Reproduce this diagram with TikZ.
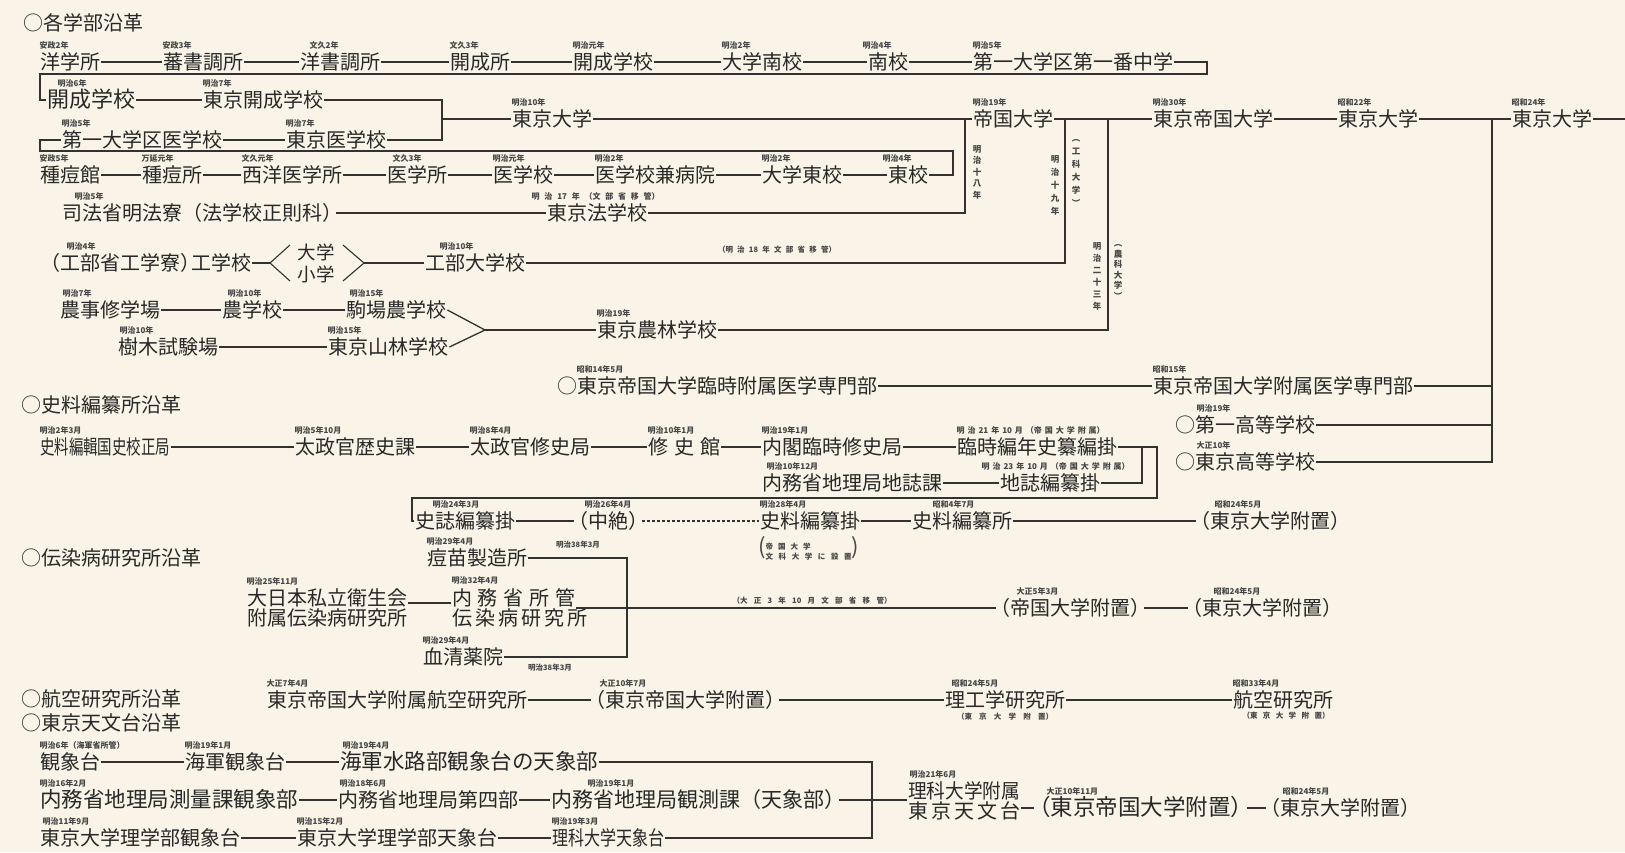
\documentclass[tikz,border=0pt]{standalone}
\usepackage{fontspec}
\setmainfont{Noto Sans CJK JP}
\usepackage{graphicx}
\definecolor{bg}{RGB}{249,244,231}
\definecolor{ink}{RGB}{40,40,40}
\definecolor{lnc}{RGB}{50,50,50}
\definecolor{dtc}{RGB}{70,70,70}
\newcommand{\lp}{\hspace*{-7pt}（}
\newcommand{\rp}{）\hspace*{-7pt}}
\newcommand{\jbig}[1]{{\fontsize{21.5}{24}\selectfont #1}}
\newcommand{\jent}[5][0]{\node[ent] (#2) at (#3) {#4};\node[dat] (#2d) at ([xshift=#1pt,yshift=2pt]#2.north west) {#5};}
\tikzset{
  ent/.style={anchor=west, inner sep=1pt, text=ink, font=\fontsize{20}{24}\selectfont, text height=16.5pt, text depth=1.5pt},
  two/.style={anchor=west, inner sep=1pt, text=ink, font=\fontsize{20}{20}\selectfont, align=left},
  dat/.style={anchor=south west, inner sep=0.5pt, text=dtc, font=\fontsize{8}{8}\selectfont\bfseries},
  sml/.style={inner sep=0.5pt, text=dtc, font=\fontsize{7.5}{8}\selectfont\bfseries},
  vt/.style={inner sep=0pt, text=dtc, font=\fontsize{8.5}{12}\selectfont\bfseries, align=center},
  ln/.style={draw=lnc, line width=1.3pt},
  dln/.style={draw=lnc, line width=1.1pt, dash pattern=on 2.5pt off 2.5pt},
}
\begin{document}
\begin{tikzpicture}[x=1pt,y=-1pt]
\fill[bg] (0,0) rectangle (1625,852);
\useasboundingbox (0,0) rectangle (1625,852);

% headers
\node[ent] (h1) at (22,23) {○各学部沿革};
\node[ent] (h2) at (20,405) {○史料編纂所沿革};
\node[ent] (h3) at (20,558) {○伝染病研究所沿革};
\node[ent] (h4) at (20,699) {○航空研究所沿革};
\node[ent] (h5) at (20,723) {○東京天文台沿革};

% ---------- section 1 ----------
\jent{yogaku}{39,62}{洋学所}{安政2年}
\jent{bansho}{162,62}{蕃書調所}{安政3年}
\jent[10]{yosho}{299,62}{洋書調所}{文久2年}
\jent{kaiseijo}{449,62}{開成所}{文久3年}
\jent{kaiseiA}{572,62}{開成学校}{明治元年}
\jent{minami}{721,62}{大学南校}{明治2年}
\jent[-5]{nanko}{867,62}{南校}{明治4年}
\jent{daiichi}{972,62}{第一大学区第一番中学}{明治5年}

\jent[11]{kaiseiB}{46,100}{{\fontsize{22}{24}\selectfont 開成学校}}{明治6年}
\jent{tkaisei}{202,100}{東京開成学校}{明治7年}
\jent{todaiA}{511,119}{東京大学}{明治10年}
\jent{teikoku}{972,119}{帝国大学}{明治19年}
\jent{tteikoku}{1152,119}{東京帝国大学}{明治30年}
\jent{todaiB}{1337,119}{東京大学}{昭和22年}
\jent{todaiC}{1511,119}{東京大学}{昭和24年}

\jent{igakuA}{61,140}{第一大学区医学校}{明治5年}
\jent{tigaku}{285,140}{東京医学校}{明治7年}

\jent{shutokan}{39,175}{種痘館}{安政5年}
\jent{shutosho}{141,175}{種痘所}{万延元年}
\jent{seiyo}{241,175}{西洋医学所}{文久元年}
\jent[6]{igakusho}{386,175}{医学所}{文久3年}
\jent{igakko}{492,175}{医学校}{明治元年}
\jent{kenbyo}{594,175}{医学校兼病院}{明治2年}
\jent{daigakuto}{761,175}{大学東校}{明治2年}
\jent[-5]{toko}{887,175}{東校}{明治4年}

\jent[13]{shiho}{61,213}{司法省明法寮（法学校正則科\rp}{明治5年}
\jent[-15]{hogakko}{546,213}{東京法学校}{\makebox[128pt][s]{明 治 17 年 （文 部 省 移 管）}}

\jent[20]{kogakko}{46,263}{\lp 工部省工学寮）\hspace*{-9pt}工学校}{明治4年}
\jent[15]{kobudai}{424,263}{工部大学校}{明治10年}
\node[sml] (kobunote) at (777,250) {\makebox[118pt][s]{（明 治 18 年 文 部 省 移 管）}};
\node[inner sep=0pt, text=ink, font=\fontsize{18.5}{18}\selectfont] (daigakuK) at (316,252) {大学};
\node[inner sep=0pt, text=ink, font=\fontsize{18.5}{18}\selectfont] (shogakuK) at (316,274) {小学};
\coordinate (k1) at (270,263);
\coordinate (k2) at (290,245);
\coordinate (k3) at (290,281);
\coordinate (k4) at (343,245);
\coordinate (k5) at (364,263);
\coordinate (k6) at (343,281);

\jent[3]{nojishu}{59,310}{農事修学場}{明治7年}
\jent[6]{nogakko}{221,310}{農学校}{明治10年}
\jent[4]{komaba}{345,310}{駒場農学校}{明治15年}
\jent[2]{jumoku}{117,347}{樹木試験場}{明治10年}
\jent{sanrin}{327,347}{東京山林学校}{明治15年}
\jent{norin}{596,330}{東京農林学校}{明治19年}
\coordinate (m1) at (485,330);

\jent[20]{rinji}{556,386}{○東京帝国大学臨時附属医学専門部}{昭和14年5月}
\jent{fuzoku}{1152,386}{東京帝国大学附属医学専門部}{昭和15年}
\jent[22]{ichiko}{1174,425}{○第一高等学校}{明治19年}
\jent[22]{tokyoko}{1174,462}{○東京高等学校}{大正10年}

% vertical notes
\node[vt, font=\fontsize{8.5}{11.5}\selectfont\bfseries] (v18) at (977,172) {明\\治\\十\\八\\年};
\node[vt, font=\fontsize{8.5}{13}\selectfont\bfseries] (v19) at (1055,185) {明\\治\\十\\九\\年};
\node[vt, font=\fontsize{8.5}{13}\selectfont\bfseries] (vko) at (1076,173) {︵\\工\\科\\大\\学\\︶};
\node[vt] (v23) at (1097,276) {明\\治\\二\\十\\三\\年};
\node[vt, font=\fontsize{8.5}{10.5}\selectfont\bfseries] (vno) at (1118,272) {︵\\農\\科\\大\\学\\︶};

% connectors section 1
\foreach \a/\b in {yogaku/bansho, bansho/yosho, yosho/kaiseijo, kaiseijo/kaiseiA, kaiseiA/minami, minami/nanko, nanko/daiichi,
  kaiseiB/tkaisei, igakuA/tigaku,
  shutokan/shutosho, shutosho/seiyo, seiyo/igakusho, igakusho/igakko, igakko/kenbyo, kenbyo/daigakuto, daigakuto/toko,
  shiho/hogakko, teikoku/tteikoku, tteikoku/todaiB, todaiB/todaiC,
  nojishu/nogakko, nogakko/komaba, jumoku/sanrin, rinji/fuzoku}
  \draw[ln] (\a.east) -- (\b.west);

\coordinate (b5) at (1207,74);
\coordinate (b6) at (40,74);
\draw[ln] (daiichi.east) -| (b5) -- (b6) |- (kaiseiB.west);
\coordinate (b1) at (442,119);
\draw[ln] (tkaisei.east) -| (b1) |- (tigaku.east);
\draw[ln] (b1) -- (todaiA.west);
\coordinate (b3) at (953,151);
\coordinate (b4) at (40,151);
\draw[ln] (toko.east) -| (b3) -- (b4) |- (igakuA.west);
\coordinate (b2) at (965,119);
\draw[ln] (todaiA.east) -- (b2) -- (teikoku.west);
\draw[ln] (b2) |- (hogakko.east);
\draw[ln] (kogakko.east) -- (k1);
\draw[ln, line width=1.1pt] (k2) -- (k1) -- (k3);
\draw[ln, line width=1.1pt] (k4) -- (k5) -- (k6);
\draw[ln] (k5) -- (kobudai.west);
\coordinate (b7) at (1065,119);
\draw[ln] (b7) |- (kobudai.east);
\draw[ln] (komaba.east) -- (m1);
\draw[ln] (sanrin.east) -- (m1);
\draw[ln] (m1) -- (norin.west);
\coordinate (b8) at (1108,119);
\draw[ln] (b8) |- (norin.east);
\coordinate (b9) at (1492,119);
\coordinate (rt) at (1625,119);
\draw[ln] (todaiC.east) -- (rt);
\draw[ln] (b9) |- (tokyoko.east);
\draw[ln] (fuzoku.east) -- (fuzoku.east -| b9);
\draw[ln] (ichiko.east) -- (ichiko.east -| b9);

% ---------- section 2 ----------
\jent{kokushi}{39,447}{\resizebox{130pt}{\height}{史料編輯国史校正局}}{明治2年3月}
\jent{rekishi}{294,447}{太政官歴史課}{明治5年10月}
\jent{shushikyoku}{469,447}{太政官修史局}{明治8年4月}
\jent{shushikan}{647,447}{\makebox[72pt][s]{修 史 館}}{明治10年1月}
\jent{naikaku}{761,447}{内閣臨時修史局}{明治19年1月}
\jent{hennen}{956,447}{臨時編年史纂編掛}{\makebox[148pt][s]{明 治 21 年 10 月 （帝 国 大 学 附 属）}}
\jent[5]{chishika}{761,483}{内務省地理局地誌課}{明治10年12月}
\jent[-18]{chishi}{999,483}{地誌編纂掛}{\makebox[148pt][s]{明 治 23 年 10 月 （帝 国 大 学 附 属）}}
\jent[18]{shishi}{414,521}{史誌編纂掛}{明治24年3月}
\jent[10]{chuzetsu}{574,521}{\lp 中絶\rp}{明治26年4月}
\jent{shiryokake}{759,521}{史料編纂掛}{明治28年4月}
\jent[21]{shiryosho}{911,521}{史料編纂所}{昭和4年7月}
\jent[18]{fuchiA}{1196,521}{\lp 東京大学附置\rp}{昭和24年5月}
\node[anchor=west, inner sep=0pt, text=dtc] (note) at (758,549) {{\fontsize{22}{22}\selectfont (}{\fontsize{7.5}{9}\selectfont\bfseries\begin{tabular}[c]{@{}l@{}}\makebox[45pt][s]{帝 国 大 学}\\\makebox[86pt][s]{文 科 大 学 に 設 置}\end{tabular}}{\fontsize{22}{22}\selectfont )}};

\foreach \a/\b in {kokushi/rekishi, rekishi/shushikyoku, shushikyoku/shushikan, shushikan/naikaku, naikaku/hennen,
  chishika/chishi, shishi/chuzetsu, shiryokake/shiryosho, shiryosho/fuchiA}
  \draw[ln] (\a.east) -- (\b.west);
\draw[dln] (chuzetsu.east) -- (shiryokake.west);
\coordinate (c1) at (1157,447);
\coordinate (c2) at (1142,447);
\coordinate (c3) at (1157,498);
\coordinate (c4) at (412,498);
\draw[ln] (hennen.east) -- (c1) -- (c3) -- (c4) |- (shishi.west);
\draw[ln] (c2) |- (chishi.east);

% ---------- section 3 ----------
\jent{tobyo}{426,558}{痘苗製造所}{明治29年4月}
\node[two] (daini) at (246,608) {大日本私立衛生会\\附属伝染病研究所};
\node[dat] (dainid) at ([yshift=2pt]daini.north west) {明治25年11月};
\node[two] (naimu) at (451,608) {\makebox[123pt][s]{内 務 省 所 管}\\\makebox[123pt][s]{伝 染 病 研 究 所}};
\node[dat] (naimud) at ([yshift=2pt]naimu.north west) {明治32年4月};
\jent{kessei}{422,657}{血清薬院}{明治29年4月}
\node[sml] (n38a) at (578,545) {明治38年3月};
\node[sml] (n38b) at (550,668) {明治38年3月};
\node[sml] (taishonote) at (812,601) {\makebox[159pt][s]{（大 正 3 年 10 月 文 部 省 移 管）}};
\jent[20]{tfuchiA}{996,608}{\lp 帝国大学附置\rp}{大正5年3月}
\jent[25]{tdfuchiA}{1188,608}{\lp 東京大学附置\rp}{昭和24年5月}
\coordinate (d1) at (627,657);
\draw[ln] (tobyo.east) -| (d1) -- (kessei.east);
\draw[ln] ([yshift=5pt]daini.east) -- ([yshift=5pt]daini.east -| naimu.west);
\draw[ln] (naimu.east) -- (tfuchiA.west);
\draw[ln] (tfuchiA.east) -- (tdfuchiA.west);

% ---------- section 4 ----------
\jent{kokuken}{266,700}{東京帝国大学附属航空研究所}{大正7年4月}
\jent[8]{kfuchi}{591,700}{\lp 東京帝国大学附置\rp}{大正10年7月}
\jent[7]{riko}{944,700}{理工学研究所}{昭和24年5月}
\node[sml] (rikosub) at (1005,717) {\makebox[96pt][s]{（東 京 大 学 附 置）}};
\jent{koku}{1232,700}{航空研究所}{昭和33年4月}
\node[sml] (kokusub) at (1286,716) {\makebox[87pt][s]{（東 京 大 学 附 置）}};
\foreach \a/\b in {kokuken/kfuchi, kfuchi/riko, riko/koku}
  \draw[ln] (\a.east) -- (\b.west);

% ---------- section 5 ----------
\jent{kansho}{39,762}{観象台}{明治6年（海軍省所管）}
\jent{kaigun}{184,762}{海軍観象台}{明治19年1月}
\jent[3]{suiro}{339,762}{\jbig{海軍水路部観象台の天象部}}{明治19年4月}
\jent{sokuryo}{39,800}{\jbig{内務省地理局測量課観象部}}{明治16年2月}
\jent[2]{daiyon}{337,800}{内務省地理局第四部}{明治18年6月}
\jent[37]{kansoku}{550,800}{{\fontsize{21}{24}\selectfont 内務省地理局観測課（天象部\rp}}{明治19年1月}
\jent[3]{rigakukan}{39,838}{東京大学理学部観象台}{明治11年9月}
\jent{rigakuten}{296,838}{東京大学理学部天象台}{明治15年2月}
\jent{rikaten}{551,838}{\resizebox{112pt}{\height}{理科大学天象台}}{明治19年3月}
\node[two] (rikafu) at (907,801) {\resizebox{112pt}{\height}{理科大学附属}\\\makebox[112pt][s]{東 京 天 文 台}};
\node[dat] (rikafud) at ([xshift=2pt,yshift=2pt]rikafu.north west) {明治21年6月};
\jent[12]{tfuchiB}{1034,808}{{\fontsize{22.5}{24}\selectfont\lp 東京帝国大学附置\rp}}{大正10年11月}
\jent[16]{tdfuchiB}{1266,808}{\lp 東京大学附置\rp}{昭和24年5月}
\foreach \a/\b in {kansho/kaigun, kaigun/suiro, sokuryo/daiyon, daiyon/kansoku, rigakukan/rigakuten, rigakuten/rikaten, tfuchiB/tdfuchiB}
  \draw[ln] (\a.east) -- (\b.west);
\coordinate (e1) at (872,762);
\coordinate (e2) at (872,838);
\draw[ln] (suiro.east) -- (e1) -- (e2) -- (rikaten.east);
\draw[ln] (kansoku.east) -- (kansoku.east -| rikafu.west);
\draw[ln] (tfuchiB.west -| rikafu.east) -- (tfuchiB.west);
\end{tikzpicture}
\end{document}
